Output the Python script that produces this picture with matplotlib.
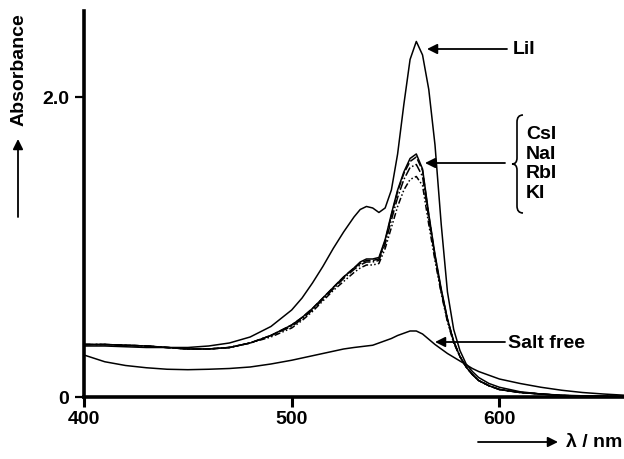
import matplotlib
matplotlib.use("Agg")
import matplotlib.pyplot as plt
from matplotlib.path import Path
from matplotlib.patches import PathPatch, FancyArrowPatch

plt.rcParams['font.family'] = ['Liberation Sans', 'DejaVu Sans']

wavelength = [400, 410, 420, 430, 440, 450, 460, 470, 480, 490, 500, 505, 510, 515,
              520, 525, 530, 533, 536, 539, 542, 545, 548, 551, 554, 557, 560, 563,
              566, 569, 572, 575, 578, 581, 584, 587, 590, 595, 600, 610, 620, 630,
              640, 650, 660]

lil = [0.34, 0.34, 0.335, 0.33, 0.33, 0.33, 0.34, 0.36, 0.40, 0.47, 0.58, 0.66, 0.76, 0.87,
       0.99, 1.10, 1.20, 1.25, 1.27, 1.26, 1.23, 1.26, 1.38, 1.62, 1.95, 2.25, 2.37, 2.28,
       2.05, 1.68, 1.15, 0.70, 0.45, 0.31, 0.22, 0.17, 0.13, 0.09, 0.065, 0.035, 0.02, 0.012,
       0.008, 0.005, 0.004]
csl = [0.35, 0.35, 0.345, 0.34, 0.33, 0.32, 0.32, 0.33, 0.36, 0.41, 0.48, 0.53, 0.59, 0.66,
       0.73, 0.80, 0.86, 0.90, 0.92, 0.92, 0.93, 1.05, 1.22, 1.38, 1.50, 1.59, 1.62, 1.52,
       1.22, 0.95, 0.72, 0.52, 0.37, 0.27, 0.20, 0.15, 0.11, 0.075, 0.05, 0.03, 0.02, 0.01,
       0.006, 0.004, 0.003]
nal = [0.35, 0.35, 0.345, 0.34, 0.33, 0.32, 0.32, 0.33, 0.36, 0.41, 0.48, 0.53, 0.59, 0.66,
       0.73, 0.80, 0.86, 0.89, 0.91, 0.91, 0.92, 1.04, 1.21, 1.37, 1.49, 1.57, 1.60, 1.51,
       1.21, 0.94, 0.71, 0.52, 0.37, 0.27, 0.20, 0.15, 0.11, 0.075, 0.05, 0.03, 0.02, 0.01,
       0.006, 0.004, 0.003]
rbl = [0.35, 0.35, 0.345, 0.34, 0.33, 0.32, 0.32, 0.33, 0.36, 0.41, 0.47, 0.52, 0.58, 0.65,
       0.72, 0.79, 0.85, 0.88, 0.90, 0.90, 0.91, 1.02, 1.18, 1.33, 1.45, 1.53, 1.55, 1.47,
       1.19, 0.93, 0.70, 0.51, 0.37, 0.27, 0.20, 0.15, 0.11, 0.075, 0.05, 0.03, 0.02, 0.01,
       0.006, 0.004, 0.003]
kl = [0.35, 0.35, 0.345, 0.34, 0.33, 0.32, 0.32, 0.33, 0.36, 0.40, 0.46, 0.51, 0.57, 0.64,
      0.71, 0.77, 0.83, 0.86, 0.88, 0.88, 0.89, 0.99, 1.13, 1.27, 1.38, 1.45, 1.47, 1.41,
      1.15, 0.91, 0.69, 0.50, 0.36, 0.27, 0.20, 0.15, 0.11, 0.075, 0.05, 0.03, 0.02, 0.01,
      0.006, 0.004, 0.003]
salt_free = [0.28, 0.235, 0.21, 0.195, 0.185, 0.182, 0.185, 0.19, 0.20, 0.22, 0.245, 0.26,
             0.275, 0.29, 0.305, 0.32, 0.33, 0.335, 0.34, 0.345, 0.36, 0.375, 0.39, 0.41,
             0.425, 0.44, 0.44, 0.42, 0.385, 0.35, 0.32, 0.29, 0.265, 0.24, 0.215, 0.19,
             0.17, 0.145, 0.12, 0.09, 0.065, 0.045, 0.03, 0.02, 0.012]

x_ticks = [400, 500, 600]
x_tick_labels = ["400", "500", "600"]
y_ticks = [0, 2.0]
y_tick_labels = ["0", "2.0"]

W, H = 624, 460
fig = plt.figure(figsize=(W / 100, H / 100), dpi=100)
ax = fig.add_axes([84 / W, 1 - 398 / H, 1 - 84 / W, (398 - 12) / H])


def fp(x, y):
    return (x / W, 1 - y / H)


ax.plot(wavelength, lil, color='black', lw=1.1)
ax.plot(wavelength, csl, color='black', lw=1.1, ls='-')
ax.plot(wavelength, nal, color='black', lw=1.1, ls=(0, (5, 1.5)))
ax.plot(wavelength, rbl, color='black', lw=1.1, ls=(0, (6, 1.5, 1, 1.5)))
ax.plot(wavelength, kl, color='black', lw=1.1, ls=(0, (4, 1.5, 1, 1.5, 1, 1.5)))
ax.plot(wavelength, salt_free, color='black', lw=1.1)

ax.set_xlim(400, 660)
ax.set_ylim(0, 2.573)
for s in ['top', 'right']:
    ax.spines[s].set_visible(False)
for s in ['left', 'bottom']:
    ax.spines[s].set_linewidth(2.6)
ax.set_xticks(x_ticks)
ax.set_xticklabels(x_tick_labels, fontsize=14, fontweight='bold')
ax.set_yticks(y_ticks)
ax.set_yticklabels(y_tick_labels, fontsize=14, fontweight='bold')
ax.tick_params(axis='x', direction='out', length=7.5, width=2.2, pad=2)
ax.tick_params(axis='y', direction='out', length=6.5, width=1.6, pad=4)

fs = 14
tkw = dict(fontsize=fs, fontweight='bold', va='center', ha='left')


def farrow(p0, p1):
    fig.patches.append(FancyArrowPatch(fp(*p0), fp(*p1), transform=fig.transFigure,
                                       arrowstyle='-|>', mutation_scale=15,
                                       color='black', lw=1.3, shrinkA=0, shrinkB=0))


# LiI label
farrow((507, 50), (427, 50))
fig.text(*fp(513, 50), 'LiI', **tkw)

# Group label with brace
farrow((505, 164), (425, 164))
fig.text(*fp(526, 164), 'CsI\nNaI\nRbI\nKI', fontsize=fs, fontweight='bold',
         va='center', ha='left', linespacing=1.2)
bx, tip, top, bot, mid = 517, 512, 116, 214, 165
verts = [fp(523, top), fp(bx, top), fp(bx, top + 7), fp(bx, mid - 6), fp(bx, mid),
         fp(tip, mid), fp(bx, mid), fp(bx, mid + 6), fp(bx, bot - 7), fp(bx, bot), fp(523, bot)]
codes = [Path.MOVETO, Path.CURVE3, Path.CURVE3, Path.LINETO, Path.CURVE3, Path.CURVE3,
         Path.CURVE3, Path.CURVE3, Path.LINETO, Path.CURVE3, Path.CURVE3]
fig.patches.append(PathPatch(Path(verts, codes), transform=fig.transFigure,
                             fill=False, lw=1.2, color='black'))

# Salt free label
farrow((505, 343), (435, 343))
fig.text(*fp(508, 343), 'Salt free', **tkw)

# axis labels with arrows
fig.text(*fp(19, 70), 'Absorbance', rotation=90, fontsize=fs, fontweight='bold',
         ha='center', va='center')
farrow((18, 218), (18, 140))
fig.text(*fp(566, 443), 'λ / nm', fontsize=fs, fontweight='bold', ha='left', va='center')
farrow((478, 443), (558, 443))

fig.savefig('out.png', dpi=100)
